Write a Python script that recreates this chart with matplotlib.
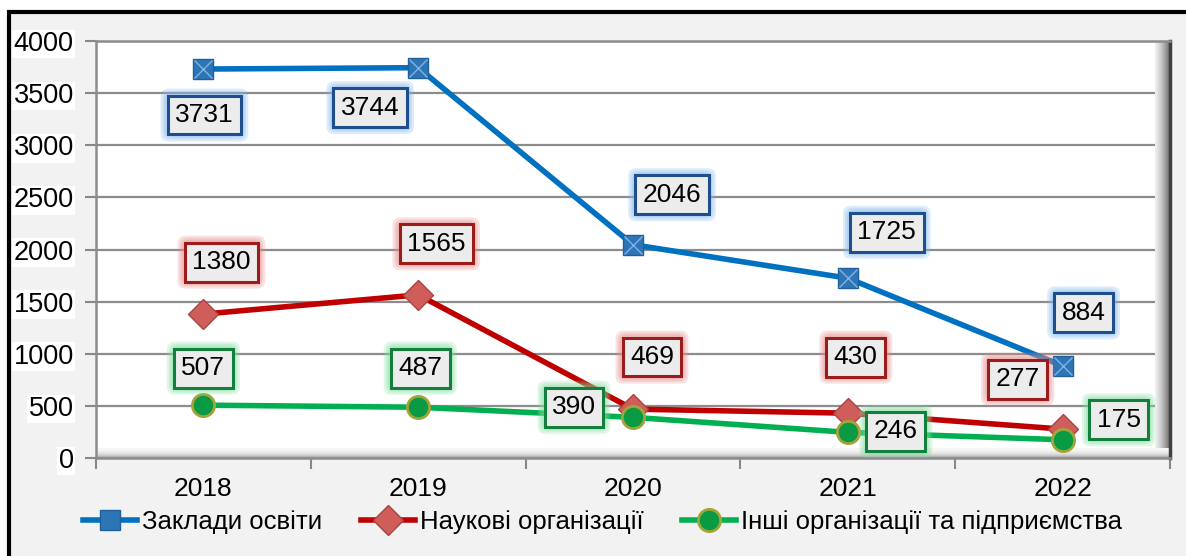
import numpy as np
import matplotlib
matplotlib.use("Agg")
import matplotlib.pyplot as plt
from matplotlib.patches import Rectangle

# data
years = ["2018", "2019", "2020", "2021", "2022"]
zaklady = [3731, 3744, 2046, 1725, 884]
naukovi = [1380, 1565, 469, 430, 277]
inshi = [507, 487, 390, 246, 175]

names = ["Заклади освіти", "Наукові організації", "Інші організації та підприємства"]

# label offsets (pixels) from the point
off_zaklady = [(1, -46), (-48, -40), (39, 50), (39, 46), (21, 53)]
off_naukovi = [(18, 52), (18, 51), (19, 52), (8, 56), (-45, 50)]
off_inshi = [(0, 37), (2, 39), (-59, 10), (48, 1), (56, 20)]

plt.rcParams["font.family"] = ["Liberation Sans", "DejaVu Sans"]

W, H = 1186, 556
fig = plt.figure(figsize=(W / 100, H / 100), dpi=100)
fig.patch.set_facecolor("white")

# outer grey panel with black frame (runs off right/bottom edge)
fig.patches.append(Rectangle((9 / W, -0.1), 1.2, 1 - 12 / H + 0.1, transform=fig.transFigure,
                             facecolor="#f2f2f2", edgecolor="black", lw=3, zorder=-5))

ax = fig.add_axes([96 / W, 1 - 458 / H, (1170 - 96) / W, (458 - 41) / H])
ax.set_zorder(2)
ax.set_facecolor("white")

# 3d-ish frame shading
grad = np.linspace(0, 1, 50).reshape(1, -1)
ax.imshow(grad, extent=[4.93, 5.0, 0, 4000], aspect="auto", cmap="Greys", vmin=-0.2, vmax=1.6, zorder=1)
ax.imshow(grad.T ** 2, extent=[0, 5.0, 0, 90], aspect="auto", cmap="Greys", vmin=-0.2, vmax=2.2, zorder=1)
ax.set_xlim(0, 5)
ax.set_ylim(0, 4000)

ax.set_yticks(np.arange(0, 4001, 500))
ax.grid(axis="y", color="#8c8c8c", lw=1.6, zorder=1.5)
ax.set_axisbelow(True)

xs = np.arange(len(years)) + 0.5
ax.set_xticks(xs)
ax.set_xticklabels(years)
ax.set_xticks(np.arange(0, 6), minor=True)
ax.tick_params(axis="x", which="major", length=0, pad=14, labelsize=19)
ax.tick_params(axis="x", which="minor", length=8, color="#888888", width=1.5)
ax.tick_params(axis="y", length=8, color="#888888", width=1.5, labelsize=19.5, pad=8)
for lab in ax.get_yticklabels():
    lab.set_bbox(dict(facecolor="white", edgecolor="none", pad=1))

for s in ["left", "bottom", "top"]:
    ax.spines[s].set_color("#8c8c8c")
    ax.spines[s].set_linewidth(1.8)
ax.spines["right"].set_color("#404040")
ax.spines["right"].set_linewidth(2.5)

# lines
l1, = ax.plot(xs, zaklady, color="#0070c0", lw=4, marker="s", ms=15,
              mfc="#2e75b6", mec="#1f5f9e", mew=1, zorder=5)
ax.plot(xs, zaklady, ls="none", marker="x", ms=13, mec="#7fb2e5", mew=1, zorder=6)
l2, = ax.plot(xs, naukovi, color="#c00000", lw=4, marker="D", ms=15,
              mfc="#cf5e5a", mec="#a94442", mew=1, zorder=5)
l3, = ax.plot(xs, inshi, color="#00b050", lw=4, marker="o", ms=16,
              mfc="#0a9a44", mec="#a3a33a", mew=2, zorder=6)


def put_labels(vals, offs, edge, glow):
    for x, v, (dx, dy) in zip(xs, vals, offs):
        # soft glow around the box
        for pad in (0.55, 0.47, 0.4):
            ax.annotate(str(v), (x, v), xytext=(dx, dy), textcoords="offset pixels",
                        ha="center", va="center", fontsize=19, color="none", zorder=7,
                        bbox=dict(boxstyle="round,pad=%s,rounding_size=0.3" % pad, facecolor=glow,
                                  edgecolor="none", alpha=0.25))
        ax.annotate(str(v), (x, v), xytext=(dx, dy), textcoords="offset pixels",
                    ha="center", va="center", fontsize=19, color="black", zorder=8,
                    bbox=dict(boxstyle="square,pad=0.28", facecolor="#ececec",
                              edgecolor=edge, lw=2.2))


put_labels(zaklady, off_zaklady, "#1f4e8c", "#7fb5ec")
put_labels(naukovi, off_naukovi, "#9c1c1c", "#e88a8a")
put_labels(inshi, off_inshi, "#12803c", "#7fdc9c")

leg = fig.legend([l1, l2, l3], names, loc="center", bbox_to_anchor=(0.508, 1 - 522 / H),
                 ncol=3, frameon=False, handlelength=2.1, handletextpad=0.2, columnspacing=1.5,
                 prop={"size": 18.5})

fig.savefig("out.png", dpi=100)
